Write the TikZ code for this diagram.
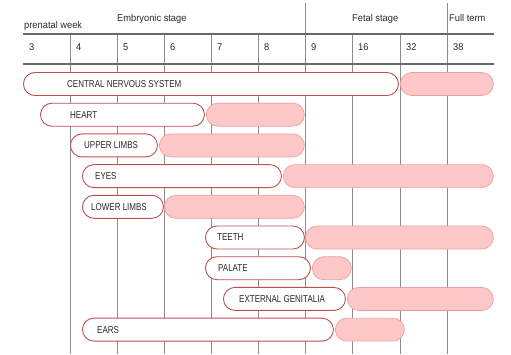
\documentclass[tikz,border=0pt]{standalone}
\usepackage{fontspec}
\setmainfont{Liberation Sans}
\newfontfamily\barfont[FakeStretch=0.8]{Liberation Sans}
\newfontfamily\headfont[FakeStretch=0.95]{Liberation Sans}
\usetikzlibrary{positioning}
\definecolor{BarRed}{RGB}{190,80,82}
\definecolor{PinkFill}{RGB}{255,200,200}
\definecolor{PinkEdge}{RGB}{238,158,158}
\definecolor{GridGray}{RGB}{140,140,140}
\definecolor{RuleGray}{RGB}{105,105,105}
\definecolor{InkGray}{RGB}{40,40,40}

\tikzset{
  wbar/.style={draw=BarRed, fill=white, line width=0.9pt, rounded corners=11.5pt,
               minimum height=23pt, inner sep=0pt, anchor=west},
  pbar/.style={draw=PinkEdge, fill=PinkFill, line width=0.7pt, rounded corners=11.5pt,
               minimum height=23pt, inner sep=0pt, anchor=west},
  organ/.style={font=\barfont\fontsize{10}{10}\selectfont, text=InkGray,
                anchor=west, inner sep=0pt},
  headtext/.style={font=\headfont\fontsize{9.8}{10}\selectfont, text=InkGray,
                   anchor=base west, inner sep=0pt},
  gridline/.style={GridGray, line width=1pt},
  ruleline/.style={RuleGray, line width=1.2pt}
}

\begin{document}
\begin{tikzpicture}[x=1pt, y=-1pt]

    \useasboundingbox (0,0) rectangle (511,354);

    % Grid lines
    \draw[gridline] (305,3) -- (305,354);
    \draw[gridline] (447,3) -- (447,354);
    \foreach \gx in {70,117,164,211,258,352,400}
        \draw[gridline] (\gx,34) -- (\gx,354);
    \draw[ruleline] (23,34) -- (494,34);
    \draw[ruleline] (23,64) -- (494,64);

    % Header
    \node[headtext] (weeklabel) at (24,28) {prenatal week};
    \node[headtext] (embryo) at (117,21) {Embryonic stage};
    \node[headtext] (fetal) at (352,21) {Fetal stage};
    \node[headtext] (fullterm) at (449,21) {Full term};

    % Week numbers
    \foreach \wx/\wk in {23/3, 70/4, 117/5, 164/6, 211/7, 258/8, 305/9, 352/16, 400/32, 447/38}
        \node[headtext] (wk\wk) at (\wx+6,50.5) {\wk};

    % Central nervous system
    \node[pbar, minimum width=93pt] (cnsB) at (400,84) {};
    \node[wbar, minimum width=375pt] (cnsA) at (23,84) {};
    \node[organ] (cnsT) at (67,84) {CENTRAL NERVOUS SYSTEM};

    % Heart
    \node[pbar, minimum width=98pt] (heartB) at (206,114.7) {};
    \node[wbar, minimum width=164pt] (heartA) at (40,114.7) {};
    \node[organ] (heartT) at (70,114.7) {HEART};

    % Upper limbs
    \node[pbar, minimum width=145pt] (ulimbB) at (159,145.4) {};
    \node[wbar, minimum width=87pt] (ulimbA) at (70,145.4) {};
    \node[organ] (ulimbT) at (84,145.4) {UPPER LIMBS};

    % Eyes
    \node[pbar, minimum width=210pt] (eyesB) at (283,176.1) {};
    \node[wbar, minimum width=199pt] (eyesA) at (82,176.1) {};
    \node[organ] (eyesT) at (95,176.1) {EYES};

    % Lower limbs
    \node[pbar, minimum width=140pt] (llimbB) at (164,206.8) {};
    \node[wbar, minimum width=81pt] (llimbA) at (82,206.8) {};
    \node[organ] (llimbT) at (91,206.8) {LOWER LIMBS};

    % Teeth
    \node[pbar, minimum width=188pt] (teethB) at (305,237.5) {};
    \node[wbar, minimum width=99pt] (teethA) at (205,237.5) {};
    \node[organ] (teethT) at (217,237.5) {TEETH};

    % Palate
    \node[pbar, minimum width=39pt] (palateB) at (312,268.2) {};
    \node[wbar, minimum width=105pt] (palateA) at (205,268.2) {};
    \node[organ] (palateT) at (218,268.2) {PALATE};

    % External genitalia
    \node[pbar, minimum width=146pt] (genB) at (347,298.9) {};
    \node[wbar, minimum width=122pt] (genA) at (223,298.9) {};
    \node[organ] (genT) at (239,298.9) {EXTERNAL GENITALIA};

    % Ears
    \node[pbar, minimum width=69pt] (earsB) at (335,329.6) {};
    \node[wbar, minimum width=251pt] (earsA) at (82,329.6) {};
    \node[organ] (earsT) at (97,329.6) {EARS};
  \end{tikzpicture}
\end{document}
